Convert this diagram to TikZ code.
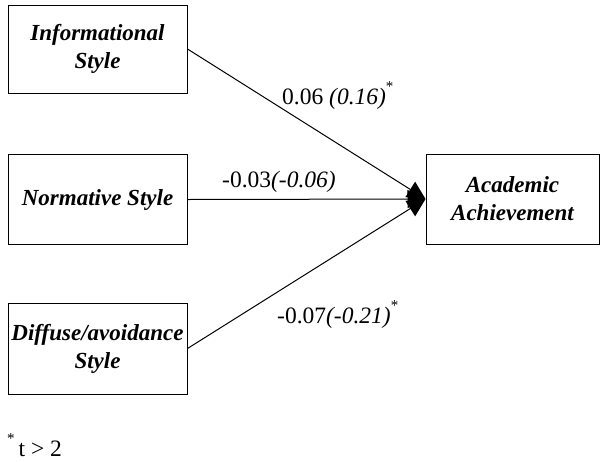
\documentclass[tikz,border=0pt]{standalone}
\usepackage{fontspec}
\setmainfont{Liberation Serif}
\usetikzlibrary{arrows.meta}
\begin{document}
\begin{tikzpicture}[x=1pt,y=-1pt,
  box/.style={draw,line width=1pt,align=center,inner sep=0pt,
    font=\fontsize{23}{28}\selectfont\bfseries\itshape,minimum width=179pt},
  conn/.style={line width=1pt,-{Triangle[length=18pt,width=18pt]}},
  lab/.style={font=\fontsize{23.5}{26}\selectfont,inner sep=0pt},
  star/.style={}]
\useasboundingbox (0,0) rectangle (601,461);
\node[box,minimum height=88pt] (inf) at (97.5,49) {Informational\\Style};
\node[box,minimum height=90pt] (nor) at (97.5,199.5) {Normative Style};
\node[box,minimum height=91pt] (dif) at (97.5,348.5) {Diffuse/avoidance\\Style};
\node[box,minimum height=90pt,minimum width=173pt] (aca) at (512.5,199) {Academic\\Achievement};
\draw[conn] (inf.east) -- (aca.west);
\draw[conn] (nor.east) -- (aca.west);
\draw[conn] (dif.east) -- (aca.west);
\node[lab,anchor=base west] (l1) at (282,104) {0.06 \textit{(0.16)}\raisebox{13pt}{\fontsize{15}{15}\selectfont *}};
\node[lab,anchor=base west] (l2) at (222,187) {-0.03\textit{(-0.06)}};
\node[lab,anchor=base west] (l3) at (277,323) {-0.07\textit{(-0.21)}\raisebox{13pt}{\fontsize{15}{15}\selectfont *}};
\node[lab,anchor=base west] (fn) at (7,456) {\raisebox{13pt}{\fontsize{15}{15}\selectfont *}\,t > 2};
\end{tikzpicture}
\end{document}
